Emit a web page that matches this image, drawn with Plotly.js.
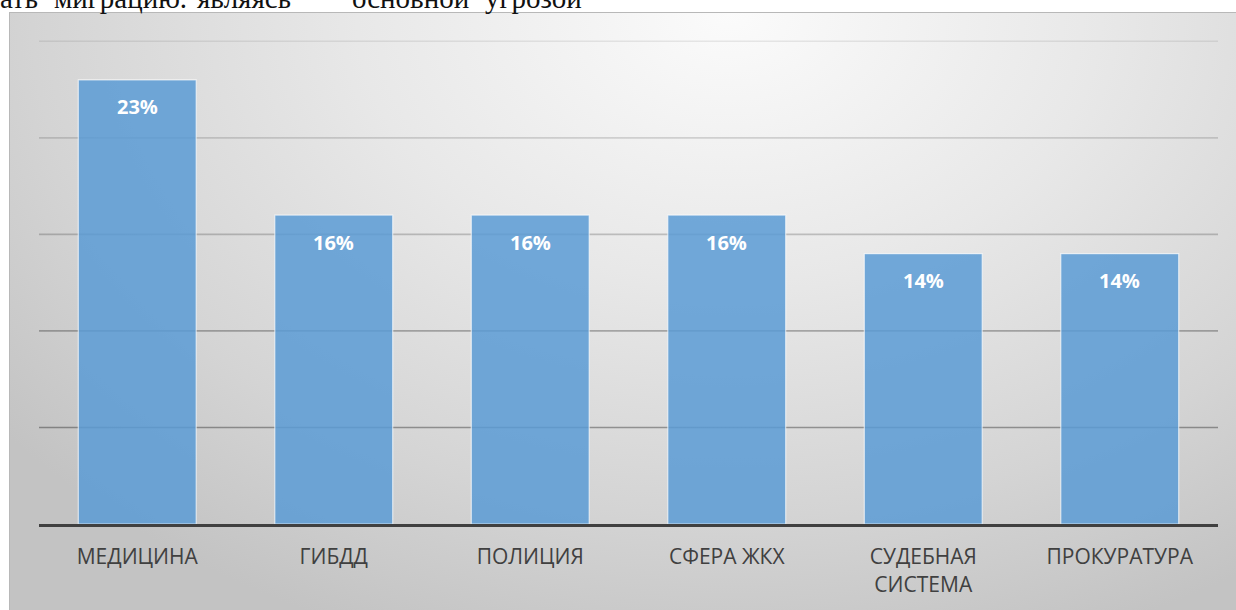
<!DOCTYPE html>
<html>
<head>
<meta charset="utf-8">
<script src="https://cdn.plot.ly/plotly-3.0.1.min.js"></script>
<style>
  html, body { margin: 0; padding: 0; background: #ffffff; width: 1236px; height: 610px; overflow: hidden; }
  #bg { position: absolute; left: 9px; top: 12px; width: 1240px; height: 610px;
        border-top: 1px solid #b8b8b8; border-left: 1px solid #b8b8b8;
        background: radial-gradient(ellipse 75% 110% at 58% 0%, #fbfbfb 0%, #e8e8e8 40%, #d4d4d4 75%, #c3c3c3 100%); }
  .w { position: absolute; top: -16px; font-family: "Liberation Serif", "DejaVu Serif", serif;
       font-size: 29px; line-height: 29px; color: #111; white-space: pre; }
  #chart { position: absolute; left: 0; top: 0; width: 1236px; height: 610px; }
</style>
</head>
<body>
<div id="bg"></div>
<div id="doc"></div>
<div id="chart"></div>
<script>
const docWords = ["ать", "миграцию.", "являясь", "основной", "угрозой"];
const docWordLeft = [0, 54, 197, 352, 485];

const categories = ["МЕДИЦИНА", "ГИБДД", "ПОЛИЦИЯ", "СФЕРА ЖКХ", "СУДЕБНАЯ<br>СИСТЕМА", "ПРОКУРАТУРА"];
const values = [23, 16, 16, 16, 14, 14];
const valueLabels = ["23%", "16%", "16%", "16%", "14%", "14%"];
const gridValues = [5, 10, 15, 20, 25];
const gridAlpha = [0.34, 0.28, 0.2, 0.14, 0.08];

// document text line above the chart (cut at page top, as in the source)
const doc = document.getElementById("doc");
docWords.forEach((w, i) => {
  const s = document.createElement("span");
  s.className = "w";
  s.style.left = docWordLeft[i] + "px";
  s.textContent = w;
  doc.appendChild(s);
});

const trace = {
  type: "bar",
  x: categories,
  y: values,
  width: 0.6,
  marker: { color: "rgba(91,155,213,0.85)", line: { color: "rgba(255,255,255,0.65)", width: 1.2 } },
  hoverinfo: "none"
};

const annotations = categories.map((c, i) => ({
  x: c, y: values[i], xref: "x", yref: "y",
  text: "<b>" + valueLabels[i] + "</b>",
  showarrow: false, yshift: -27,
  font: { family: "Open Sans, sans-serif", size: 20, color: "#ffffff" }
}));

const shapes = gridValues.map((v, i) => ({
  type: "line", xref: "paper", yref: "y", layer: "below",
  x0: 0, x1: 1, y0: v, y1: v,
  line: { color: "rgba(0,0,0," + gridAlpha[i] + ")", width: 1.6 }
}));

const layout = {
  width: 1236, height: 610,
  margin: { l: 39, r: 18, t: 22, b: 86 },
  paper_bgcolor: "rgba(0,0,0,0)",
  plot_bgcolor: "rgba(0,0,0,0)",
  showlegend: false,
  bargap: 0.4,
  xaxis: {
    type: "category",
    showline: true, linecolor: "#404040", linewidth: 3,
    ticks: "", ticklabelstandoff: 12,
    tickfont: { family: "Open Sans, sans-serif", size: 21, color: "#404040" },
    showgrid: false, zeroline: false, fixedrange: true
  },
  yaxis: {
    range: [0, 26],
    showticklabels: false,
    showgrid: false,
    zeroline: false, showline: false, fixedrange: true
  },
  shapes: shapes,
  annotations: annotations
};

Plotly.newPlot("chart", [trace], layout, { displayModeBar: false, staticPlot: true });
</script>
</body>
</html>
